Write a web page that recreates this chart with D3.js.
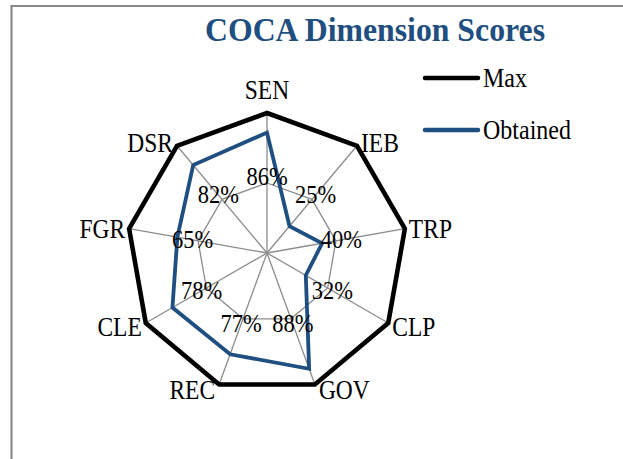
<!DOCTYPE html>
<html><head><meta charset="utf-8">
<script src="https://cdn.jsdelivr.net/npm/d3@7"></script>
<style>html,body{margin:0;padding:0;background:#fff;}svg{display:block;}</style>
</head><body>
<svg id="chart" width="623" height="459"></svg>
<script>
const categories = ["SEN","IEB","TRP","CLP","GOV","REC","CLE","FGR","DSR"];
const maxValues = [100,100,100,100,100,100,100,100,100];
const obtainedValues = [86,25,40,32,88,77,78,65,82];
const gridLevels = [50,100];
const seriesNames = ["Max","Obtained"];
const seriesColors = ["#000000","#1f4e80"];

const svg = d3.select("#chart");
const W = 623, H = 459;
const cx = 267, cy = 253, R = 140;
const font = "'Liberation Serif','DejaVu Serif',serif";
const SY = 1.12; // vertical stretch to mimic the taller original face

function addText(x, y, str, size, opts = {}) {
  const t = svg.append("text")
    .attr("transform", `translate(${x},${y}) scale(1,${SY})`)
    .attr("x", 0).attr("y", 0)
    .attr("text-anchor", opts.anchor || "start")
    .attr("font-family", font).attr("font-size", size)
    .attr("fill", opts.fill || "#000").text(str);
  if (opts.bold) t.attr("font-weight", "bold");
  if (opts.baseline) t.attr("dominant-baseline", opts.baseline);
  if (opts.len) t.attr("textLength", opts.len).attr("lengthAdjust", "spacingAndGlyphs");
  return t;
}

// frame
svg.append("path").attr("d", `M11.5,${H} L11.5,6 L${W},6`)
  .attr("fill","none").attr("stroke","#8a8a8a").attr("stroke-width",2.2);

// title
addText(375, 41, "COCA Dimension Scores", 31, {anchor:"middle", bold:true, fill:"#1f4e80", len:340});

const n = categories.length;
const angle = d3.scaleLinear().domain([0,n]).range([0,2*Math.PI]);
const r = d3.scaleLinear().domain([0,100]).range([0,R]);
const pt = (i,v) => [cx + r(v)*Math.sin(angle(i)), cy - r(v)*Math.cos(angle(i))];

const line = d3.line().curve(d3.curveLinearClosed);

// grid rings
gridLevels.slice(0,-1).forEach(l => {
  svg.append("path").attr("d", line(categories.map((c,i)=>pt(i,l))))
    .attr("fill","none").attr("stroke","#8c8c8c").attr("stroke-width",1.3);
});
// spokes
categories.forEach((c,i)=>{
  const p = pt(i,100);
  svg.append("line").attr("x1",cx).attr("y1",cy).attr("x2",p[0]).attr("y2",p[1])
    .attr("stroke","#8c8c8c").attr("stroke-width",1.3);
});

// series
svg.append("path").attr("d", line(maxValues.map((v,i)=>pt(i,v))))
  .attr("fill","none").attr("stroke",seriesColors[0]).attr("stroke-width",4.6).attr("stroke-linejoin","miter");
svg.append("path").attr("d", line(obtainedValues.map((v,i)=>pt(i,v))))
  .attr("fill","none").attr("stroke",seriesColors[1]).attr("stroke-width",3.8).attr("stroke-linejoin","miter");

// category labels
categories.forEach((c,i)=>{
  const a = angle(i), s = Math.sin(a), co = Math.cos(a);
  const p = pt(i,100);
  let anchor = "middle", x = p[0], y;
  if (s > 0.1) { anchor = "start"; x = p[0] + 4; }
  else if (s < -0.1) { anchor = "end"; x = p[0] - 4; }
  if (co > 0.95) y = p[1] - 14;
  else y = p[1] + 10 - 5*co;
  addText(x, y, c, 23.5, {anchor});
});

// value labels
obtainedValues.forEach((v,i)=>{
  const p = pt(i,54);
  addText(p[0], p[1] + 8, v + "%", 22.5, {anchor:"middle"});
});

// legend
seriesNames.forEach((name,k)=>{
  const y = 78 + k*52;
  svg.append("line").attr("x1",425).attr("x2",478).attr("y1",y).attr("y2",y)
    .attr("stroke",seriesColors[k]).attr("stroke-width",4.5).attr("stroke-linecap","round");
  addText(483, y + 9, name, 24);
});
</script>
</body></html>
